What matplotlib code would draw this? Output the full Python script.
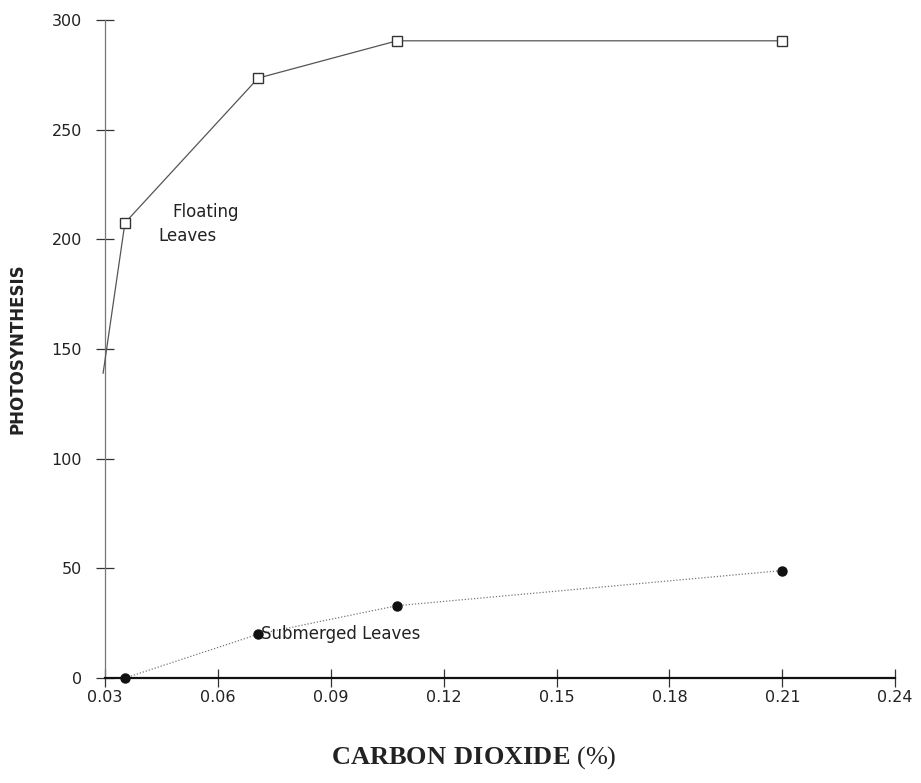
import matplotlib
matplotlib.use("Agg")
import matplotlib.pyplot as plt

plt.rcParams["mathtext.fontset"] = "custom"
plt.rcParams["mathtext.bf"] = "Liberation Serif:bold"
plt.rcParams["mathtext.rm"] = "Liberation Serif"

# CO2 concentration (%) and photosynthesis rates
floating_co2 = [0.0295, 0.0353, 0.0707, 0.1076, 0.2099]
floating_ps = [139, 207.5, 273.5, 290.5, 290.5]
floating_marked = [False, True, True, True, True]

submerged_co2 = [0.0353, 0.0707, 0.1076, 0.2099]
submerged_ps = [0, 20, 33, 49]

x_ticks = [0.03, 0.06, 0.09, 0.12, 0.15, 0.18, 0.21, 0.24]
x_tick_labels = ["0.03", "0.06", "0.09", "0.12", "0.15", "0.18", "0.21", "0.24"]
y_ticks = [0, 50, 100, 150, 200, 250, 300]

fig = plt.figure(figsize=(9.21, 7.83), dpi=100)
ax = fig.add_axes([0.114, 0.134, 0.858, 0.8405])

# Floating leaves: thin solid line, open squares
ax.plot(floating_co2, floating_ps, color="#555555", lw=0.9, clip_on=False, zorder=3)
mx = [x for x, m in zip(floating_co2, floating_marked) if m]
my = [y for y, m in zip(floating_ps, floating_marked) if m]
ax.plot(mx, my, ls="none", marker="s", ms=7, mfc="white", mec="#333333", mew=1.0,
        clip_on=False, zorder=4)

# Submerged leaves: dotted line, filled circles
ax.plot(submerged_co2, submerged_ps, color="#777777", lw=0.9, ls=(0, (1, 1.5)),
        clip_on=False, zorder=3)
ax.plot(submerged_co2, submerged_ps, ls="none", marker="o", ms=6.5, color="#111111",
        clip_on=False, zorder=4)

ax.set_xlim(0.03, 0.24)
ax.set_ylim(0, 300)

for s in ("top", "right"):
    ax.spines[s].set_visible(False)
ax.spines["left"].set_color("#777777")
ax.spines["left"].set_linewidth(0.9)
ax.spines["left"].set_linestyle((0, (6, 1, 1, 1)))
ax.spines["bottom"].set_color("#111111")
ax.spines["bottom"].set_linewidth(1.6)

ax.set_xticks(x_ticks)
ax.set_xticklabels(x_tick_labels)
ax.set_yticks(y_ticks)
ax.tick_params(axis="both", direction="inout", length=13, width=0.9, color="#333333",
               labelsize=11.5, labelcolor="#222222")
ax.tick_params(axis="x", pad=2)
ax.tick_params(axis="y", pad=10)

ax.set_ylabel("PHOTOSYNTHESIS", fontsize=12, fontweight="bold", color="#222222",
              labelpad=18)

fig.text(0.514, 0.033, r"$\mathbf{CARBON\ DIOXIDE}$ (%)", fontsize=19,
         family=["Liberation Serif", "DejaVu Serif"], color="#222222",
         ha="center", va="center")

ax.text(0.0479, 212.5, "Floating", fontsize=12, color="#222222", va="center", ha="left")
ax.text(0.0443, 201.5, "Leaves", fontsize=12, color="#222222", va="center", ha="left")
ax.text(0.0715, 20, "Submerged Leaves", fontsize=12, color="#222222", va="center", ha="left")

fig.savefig("out.png", dpi=100)
